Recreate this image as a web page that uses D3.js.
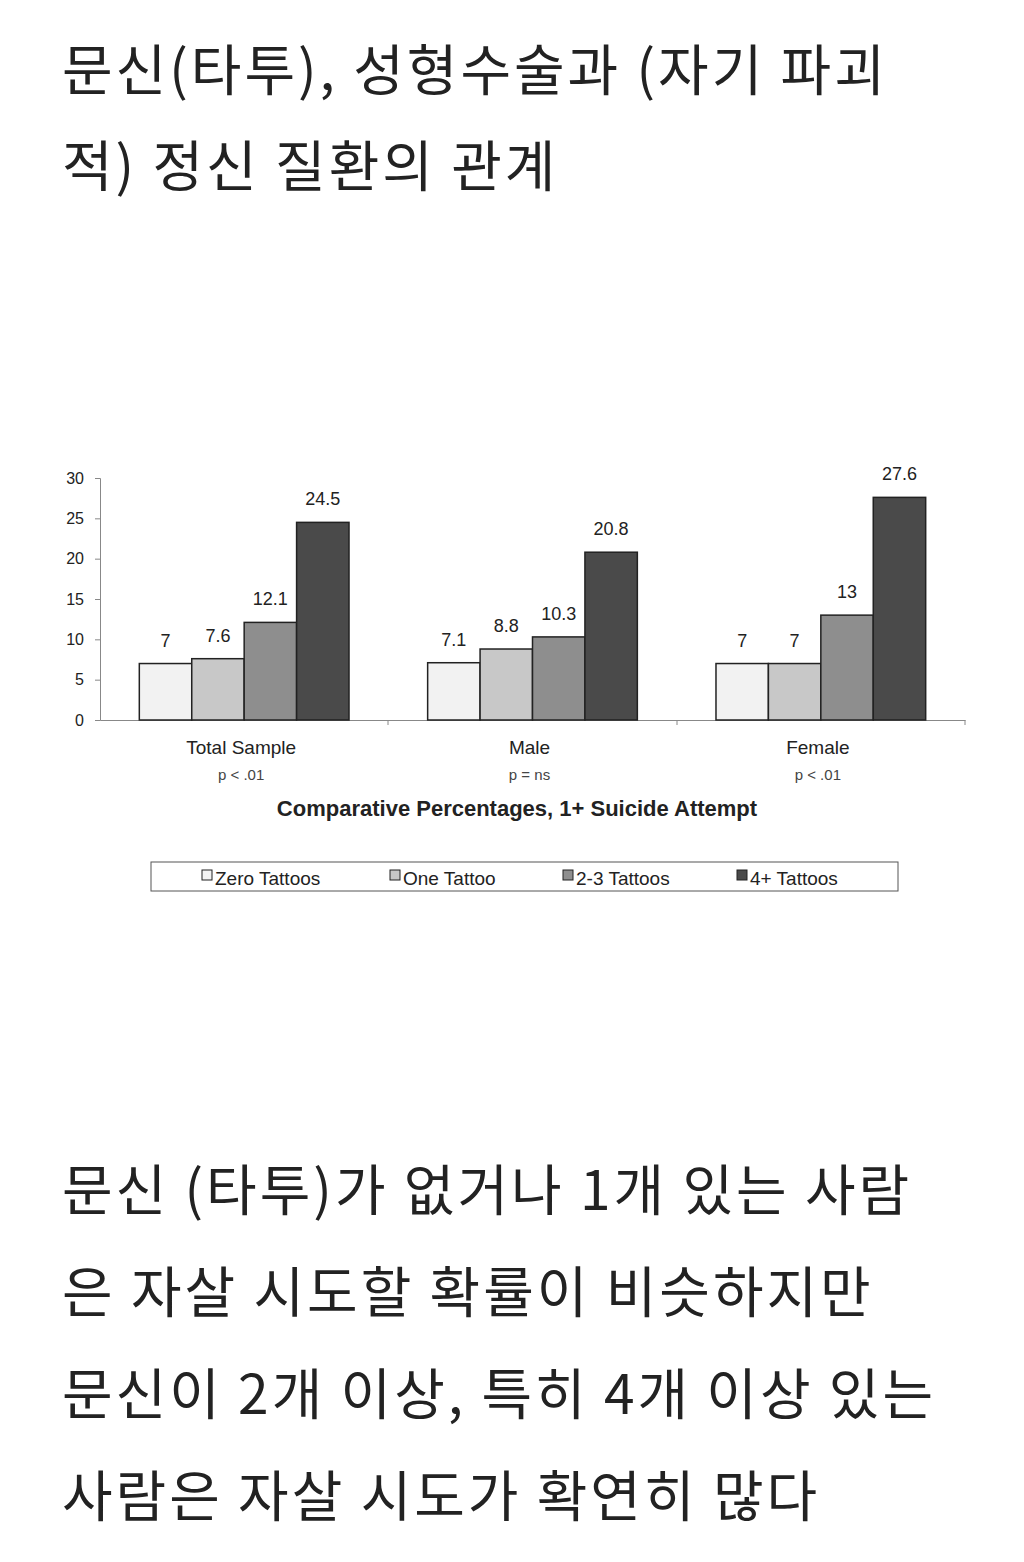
<!DOCTYPE html>
<html><head><meta charset="utf-8">
<script src="https://cdn.jsdelivr.net/npm/d3@7"></script>
<style>
body{margin:0;background:#fff;}
svg{display:block;}
</style></head>
<body>
<svg id="chart" width="1024" height="1562"></svg>
<script>
// data
const groups = ["Total Sample", "Male", "Female"];
const pValues = ["p < .01", "p = ns", "p < .01"];
const series = ["Zero Tattoos", "One Tattoo", "2-3 Tattoos", "4+ Tattoos"];
const zeroT = [7, 7.1, 7];
const oneT = [7.6, 8.8, 7];
const twoThreeT = [12.1, 10.3, 13];
const fourT = [24.5, 20.8, 27.6];
const labels = [["7", "7.6", "12.1", "24.5"], ["7.1", "8.8", "10.3", "20.8"], ["7", "7", "13", "27.6"]];
const yTicks = [0, 5, 10, 15, 20, 25, 30];
const colors = ["#f2f2f2", "#c8c8c8", "#8e8e8e", "#4a4a4a"];
const titleLines = ["문신(타투), 성형수술과 (자기 파괴", "적) 정신 질환의 관계"];
const bodyLines = ["문신 (타투)가 없거나 1개 있는 사람", "은 자살 시도할 확률이 비슷하지만", "문신이 2개 이상, 특히 4개 이상 있는", "사람은 자살 시도가 확연히 많다"];

const svg = d3.select("#chart");
const kr = "'Noto Sans CJK KR', sans-serif";
const lat = "'Liberation Sans', Arial, sans-serif";

// Korean text
svg.selectAll(".t").data(titleLines).enter().append("text")
    .attr("x", 62).attr("y", (d, i) => 90 + i * 96)
    .attr("font-family", kr).attr("font-size", 55).attr("letter-spacing", 3)
    .attr("fill", "#222").text(d => d);
svg.selectAll(".b").data(bodyLines).enter().append("text")
    .attr("x", 62).attr("y", (d, i) => 1210 + i * 102)
    .attr("font-family", kr).attr("font-size", 55).attr("letter-spacing", 3)
    .attr("fill", "#222").text(d => d);

// chart
const values = groups.map((g, i) => [zeroT[i], oneT[i], twoThreeT[i], fourT[i]]);
const x = d3.scaleBand().domain(groups).range([100, 965]);
const xs = d3.scaleBand().domain(series).range([0, x.bandwidth()]).paddingOuter(0.75);
const y = d3.scaleLinear().domain([0, 30]).range([720, 478]);

const yAxis = svg.append("g").attr("transform", "translate(100,0)")
    .call(d3.axisLeft(y).tickValues(yTicks).tickSize(5));
yAxis.selectAll("text").attr("font-family", lat).attr("font-size", 16).attr("fill", "#222").attr("x", -16);
yAxis.selectAll("line,path").attr("stroke", "#888");

const xAxis = svg.append("g").attr("transform", "translate(0,720)")
    .call(d3.axisBottom(x).tickValues([]).tickSizeOuter(0));
xAxis.select("path").attr("stroke", "#888");
[388, 677, 965].forEach(v => xAxis.append("line").attr("x1", v).attr("x2", v).attr("y1", 0).attr("y2", 5).attr("stroke", "#888"));

const g = svg.selectAll(".grp").data(groups).enter().append("g")
    .attr("transform", d => `translate(${x(d)},0)`);
g.each(function (gname, gi) {
    const sel = d3.select(this);
    series.forEach((s, si) => {
        const v = values[gi][si];
        sel.append("rect").attr("x", xs(s)).attr("y", y(v))
            .attr("width", xs.bandwidth()).attr("height", y(0) - y(v))
            .attr("fill", colors[si]).attr("stroke", "#222").attr("stroke-width", 1.5);
        sel.append("text").attr("x", xs(s) + xs.bandwidth() / 2).attr("y", y(v) - 17)
            .attr("text-anchor", "middle").attr("font-family", lat).attr("font-size", 18)
            .attr("fill", "#222").text(labels[gi][si]);
    });
    sel.append("text").attr("x", x.bandwidth() / 2 - 3).attr("y", 754).attr("text-anchor", "middle")
        .attr("font-family", lat).attr("font-size", 19).attr("fill", "#222").text(gname);
    sel.append("text").attr("x", x.bandwidth() / 2 - 3).attr("y", 780).attr("text-anchor", "middle")
        .attr("font-family", lat).attr("font-size", 15).attr("fill", "#444").text(pValues[gi]);
});

svg.append("text").attr("x", 517).attr("y", 816).attr("text-anchor", "middle")
    .attr("font-family", lat).attr("font-size", 22).attr("font-weight", "bold").attr("fill", "#222")
    .text("Comparative Percentages, 1+ Suicide Attempt");

// legend
svg.append("rect").attr("x", 151).attr("y", 862).attr("width", 747).attr("height", 29)
    .attr("fill", "#fff").attr("stroke", "#555");
const legX = [202, 390, 563, 737];
series.forEach((s, i) => {
    svg.append("rect").attr("x", legX[i]).attr("y", 870).attr("width", 10).attr("height", 10)
        .attr("fill", colors[i]).attr("stroke", "#222");
    svg.append("text").attr("x", legX[i] + 13).attr("y", 885).attr("font-family", lat)
        .attr("font-size", 19).attr("fill", "#222").text(s);
});
</script>
</body></html>
